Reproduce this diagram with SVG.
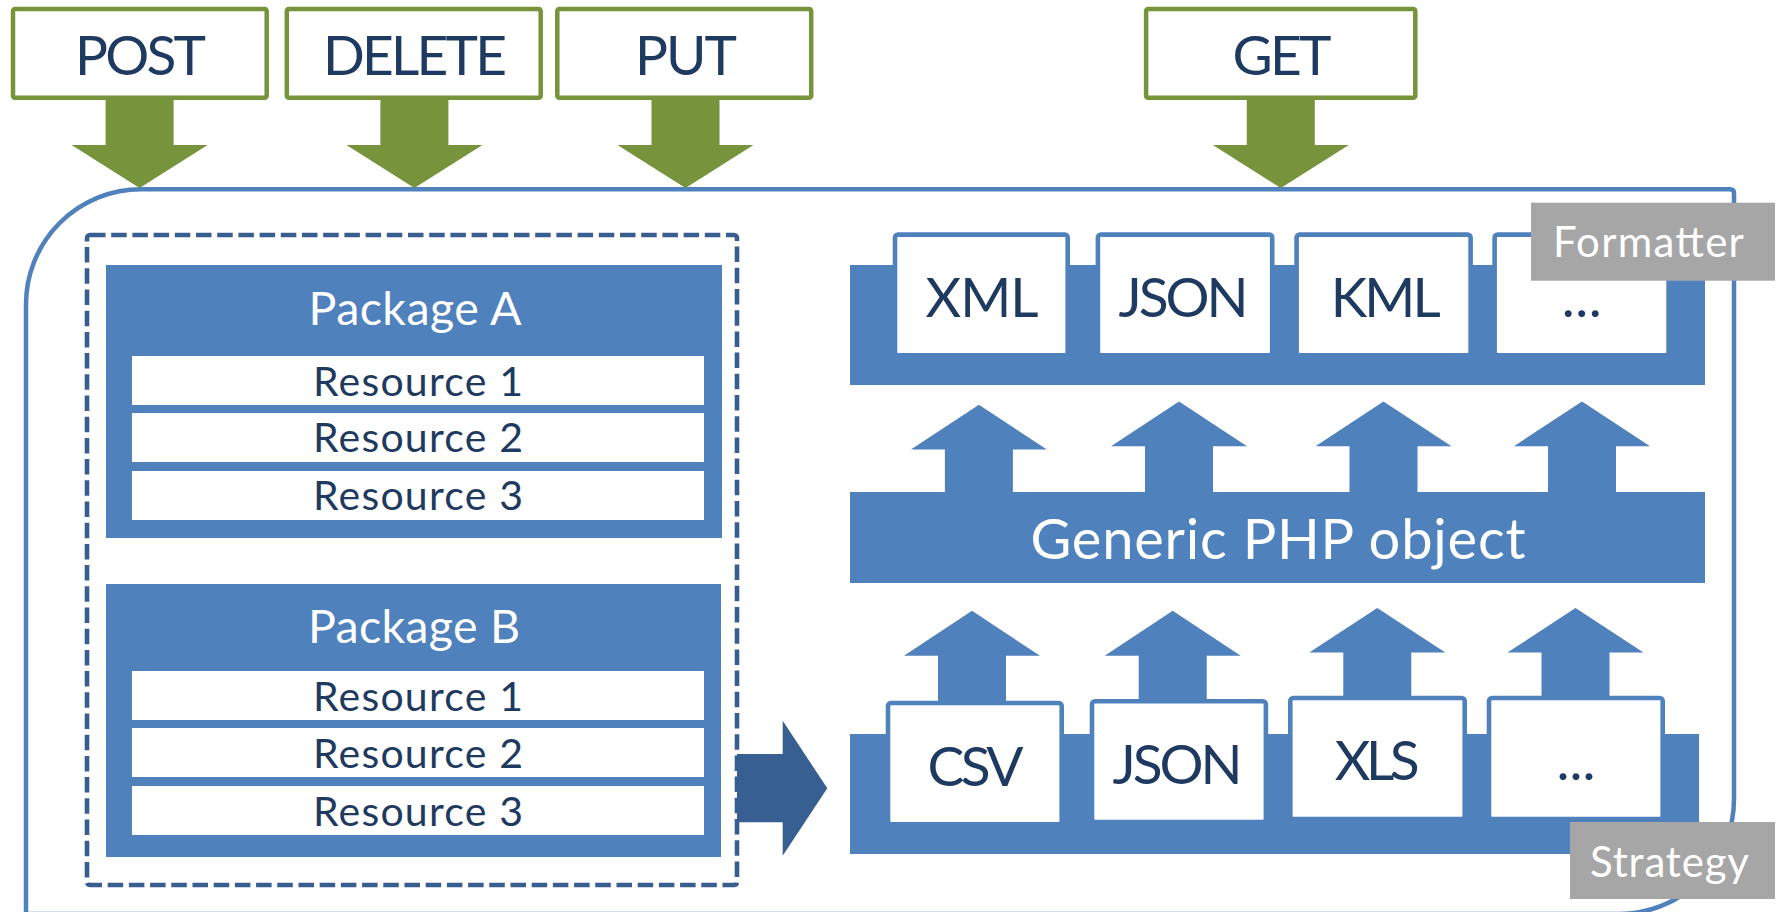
<svg xmlns="http://www.w3.org/2000/svg" width="1779" height="912" viewBox="0 0 1779 912">
<style>
text{font-family:Lato,"Open Sans","Liberation Sans",sans-serif;text-anchor:middle}
.dark{fill:#1F3A60}
.white{fill:#FFFFFF}
.method{fill:#FFFFFF;stroke:#77933C;stroke-width:4.5}
.band{fill:#4F81BD}
.fbox{fill:#FFFFFF;stroke:#4F81BD;stroke-width:4.6}
.row{fill:#FFFFFF}
.label{fill:#A6A6A6}
.green{fill:#77933C}
.blue{fill:#4F81BD}
.t58{font-size:55px}
.t57{font-size:55px}
.t56{font-size:56px}
.t46{font-size:46.5px}
.t41{font-size:41px}
.t42{font-size:42px}
</style>
<rect width="1779" height="912" fill="#FFFFFF"/>
<g id="container">
<path d="M26,305 A115,115 0 0 1 141,189.3 H1730 Q1734,189.3 1734,193.3 V799 A115,115 0 0 1 1619,914 H26 Z" fill="none" stroke="#4F81BD" stroke-width="4.5"/>
</g>
<g id="package-group">
<rect x="87" y="235" width="650" height="650" rx="3" fill="none" stroke="#385E8F" stroke-width="4.6" stroke-dasharray="15.5 5.7"/>
</g>
<g id="package-a">
<rect x="106" y="265" width="616" height="273" class="band"/>
<text x="415" y="325" class="white t46" textLength="213" lengthAdjust="spacing">Package A</text>
<rect x="132" y="356" width="572" height="49" class="row"/>
<rect x="132" y="413" width="572" height="49" class="row"/>
<rect x="132" y="471" width="572" height="49" class="row"/>
<text x="418" y="396" class="dark t41" textLength="210" lengthAdjust="spacing">Resource 1</text>
<text x="418" y="452" class="dark t41" textLength="210" lengthAdjust="spacing">Resource 2</text>
<text x="418" y="510" class="dark t41" textLength="210" lengthAdjust="spacing">Resource 3</text>
</g>
<g id="package-b">
<rect x="106" y="584" width="615" height="273" class="band"/>
<text x="414" y="643" class="white t46" textLength="212" lengthAdjust="spacing">Package B</text>
<rect x="132" y="671" width="572" height="49" class="row"/>
<rect x="132" y="728" width="572" height="49" class="row"/>
<rect x="132" y="786" width="572" height="49" class="row"/>
<text x="418" y="711" class="dark t41" textLength="210" lengthAdjust="spacing">Resource 1</text>
<text x="418" y="768" class="dark t41" textLength="210" lengthAdjust="spacing">Resource 2</text>
<text x="418" y="826" class="dark t41" textLength="210" lengthAdjust="spacing">Resource 3</text>
</g>
<g id="connectors">
<path class="green" d="M105.6,99 H173.6 V145 H207.6 L139.6,188 L71.6,145 H105.6 Z"/>
<path class="green" d="M380.4,99 H448.4 V145 H482.4 L414.4,188 L346.4,145 H380.4 Z"/>
<path class="green" d="M651.5,99 H719.5 V145 H753.5 L685.5,188 L617.5,145 H651.5 Z"/>
<path class="green" d="M1246.8,99 H1314.8 V145 H1348.8 L1280.8,188 L1212.8,145 H1246.8 Z"/>
<path class="blue" d="M944.9,492 V449.6 H910.9 L978.9,404.8 L1046.9,449.6 H1012.9 V492 Z"/>
<path class="blue" d="M1145,492 V446.2 H1111 L1179,401.4 L1247,446.2 H1213 V492 Z"/>
<path class="blue" d="M1349.5,492 V446.2 H1315.5 L1383.5,401.4 L1451.5,446.2 H1417.5 V492 Z"/>
<path class="blue" d="M1548,492 V446.2 H1514 L1582,401.4 L1650,446.2 H1616 V492 Z"/>
<path class="blue" d="M938,703 V655.8 H904 L972,610.7 L1040,655.8 H1006 V703 Z"/>
<path class="blue" d="M1138.7,701 V655.8 H1104.7 L1172.7,610.7 L1240.7,655.8 H1206.7 V701 Z"/>
<path class="blue" d="M1343.3,698 V652.6 H1309.3 L1377.3,608 L1445.3,652.6 H1411.3 V698 Z"/>
<path class="blue" d="M1541.5,698 V652.6 H1507.5 L1575.5,608 L1643.5,652.6 H1609.5 V698 Z"/>
<path fill="#375F91" d="M737,754 H782.7 V720.7 L827.3,788.3 L782.7,855.7 V822.3 H737 Z"/>
</g>
<g id="post">
<rect x="13" y="9" width="253.7" height="88.7" rx="2" class="method"/>
<text x="140.5" y="75" class="dark t58" textLength="131" lengthAdjust="spacing">POST</text>
</g>
<g id="delete">
<rect x="286.8" y="9" width="253.9" height="88.7" rx="2" class="method"/>
<text x="415" y="75" class="dark t58" textLength="184" lengthAdjust="spacing">DELETE</text>
</g>
<g id="put">
<rect x="557.3" y="9" width="253.9" height="88.7" rx="2" class="method"/>
<text x="686" y="75" class="dark t58" textLength="102" lengthAdjust="spacing">PUT</text>
</g>
<g id="get">
<rect x="1146.1" y="9" width="269.2" height="88.7" rx="2" class="method"/>
<text x="1282" y="75" class="dark t58" textLength="99" lengthAdjust="spacing">GET</text>
</g>
<g id="formatter">
<rect x="850" y="265" width="855" height="120" class="band"/>
<rect x="895" y="234.6" width="172.7" height="120.7" rx="3" class="fbox"/>
<rect x="1097.9" y="234.6" width="174.3" height="120.7" rx="3" class="fbox"/>
<rect x="1296.6" y="234.6" width="174" height="120.7" rx="3" class="fbox"/>
<rect x="1494.6" y="234.6" width="174" height="120.7" rx="3" class="fbox"/>
<text x="982" y="316.7" class="dark t57" textLength="113" lengthAdjust="spacing">XML</text>
<text x="1183.5" y="316.7" class="dark t57" textLength="130" lengthAdjust="spacing">JSON</text>
<text x="1385.7" y="316.7" class="dark t57" textLength="110" lengthAdjust="spacing">KML</text>
<text x="1581.7" y="316.7" class="dark t57" textLength="40" lengthAdjust="spacing">...</text>
</g>
<g id="formatter-label">
<rect x="1531" y="202.7" width="244" height="78" class="label"/>
<text x="1648.4" y="257.3" class="white t42" textLength="191" lengthAdjust="spacing">Formatter</text>
</g>
<g id="generic">
<rect x="850" y="492" width="855" height="91" class="band"/>
<text x="1278" y="558.8" class="white t56" textLength="495" lengthAdjust="spacing">Generic PHP object</text>
</g>
<g id="strategy">
<rect x="850" y="734" width="849" height="120" class="band"/>
<rect x="888" y="703" width="173.7" height="121.3" rx="3" class="fbox"/>
<rect x="1092" y="701.3" width="173.9" height="120.7" rx="3" class="fbox"/>
<rect x="1290.3" y="698" width="174.4" height="121" rx="3" class="fbox"/>
<rect x="1489" y="698" width="173.7" height="121" rx="3" class="fbox"/>
<text x="975.5" y="785.5" class="dark t57" textLength="96" lengthAdjust="spacing">CSV</text>
<text x="1177.5" y="783.8" class="dark t57" textLength="130" lengthAdjust="spacing">JSON</text>
<text x="1377.2" y="780.4" class="dark t57" textLength="85" lengthAdjust="spacing">XLS</text>
<text x="1576" y="780.4" class="dark t57" textLength="39" lengthAdjust="spacing">...</text>
</g>
<g id="strategy-label">
<rect x="1570" y="822" width="205" height="77" class="label"/>
<text x="1669.5" y="876.7" class="white t42" textLength="159" lengthAdjust="spacing">Strategy</text>
</g>
</svg>
